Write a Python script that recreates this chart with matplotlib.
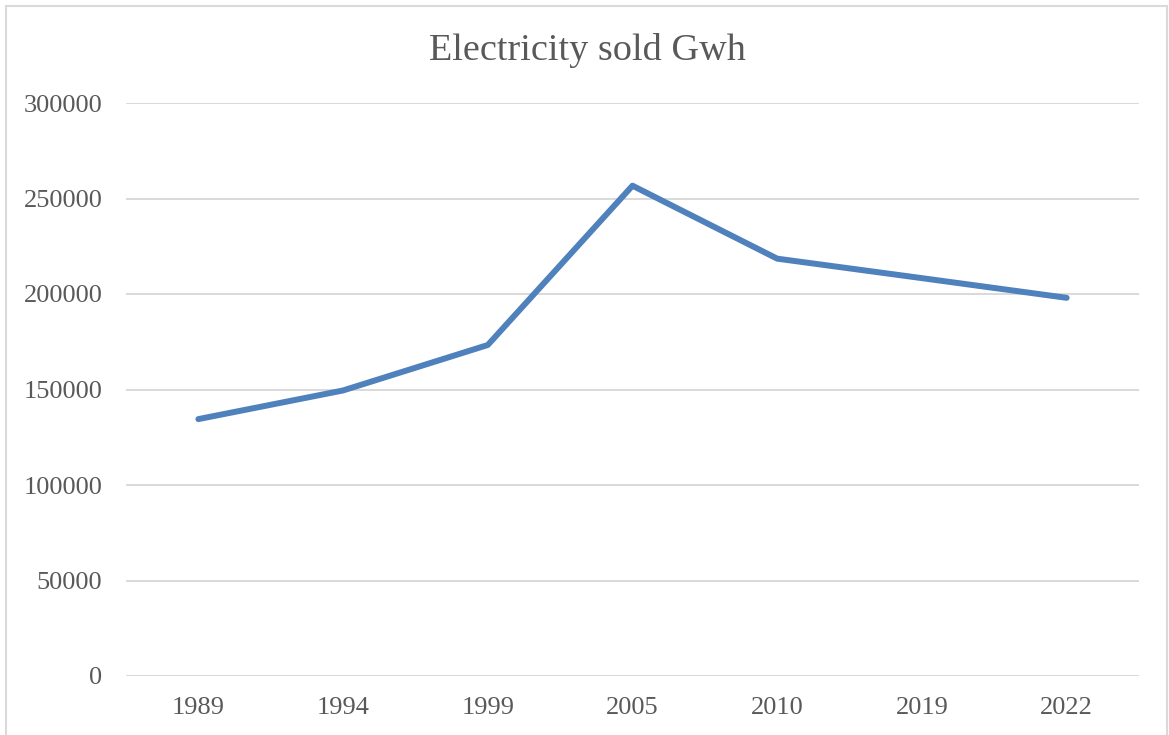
import matplotlib
matplotlib.use("Agg")
import matplotlib.pyplot as plt
from matplotlib.patches import Rectangle

# ----- DATA -----
years = ["1989", "1994", "1999", "2005", "2010", "2019", "2022"]
electricity_gwh = [134500, 149500, 173300, 256700, 218500, 208300, 198000]
y_ticks = [0, 50000, 100000, 150000, 200000, 250000, 300000]

plt.rcParams["font.family"] = ["Liberation Serif", "DejaVu Serif"]

fig = plt.figure(figsize=(11.69, 7.35), dpi=100)
ax = fig.add_axes([126 / 1169, 59 / 735, 1013 / 1169, 573 / 735])

# chart border like an office chart frame
fig.patches.append(Rectangle((6 / 1169, -0.01), 1161 / 1169, 1.0 - 6 / 735 + 0.01,
                             transform=fig.transFigure, fill=False,
                             edgecolor="#D9D9D9", linewidth=1.5))

x = list(range(len(years)))
ax.plot(x, electricity_gwh, color="#4F81BD", linewidth=4.3,
        solid_capstyle="round", solid_joinstyle="round", zorder=3)

ax.set_xlim(-0.5, len(years) - 0.5)
ax.set_ylim(0, 300000)
ax.set_xticks(x)
ax.set_xticklabels(years)
ax.set_yticks(y_ticks)
ax.set_yticklabels([str(v) for v in y_ticks])

ax.grid(axis="y", color="#D9D9D9", linewidth=1.4)
ax.set_axisbelow(True)
for side in ["top", "right", "left", "bottom"]:
    ax.spines[side].set_visible(False)
ax.tick_params(axis="both", length=0, labelsize=19, colors="#595959")
ax.tick_params(axis="y", pad=17)
ax.tick_params(axis="x", pad=15)

fig.text(587 / 1169, 1 - 50 / 735, "Electricity sold Gwh", ha="center", va="center",
         fontsize=27.5, color="#595959")

plt.savefig("out.png", dpi=100)
